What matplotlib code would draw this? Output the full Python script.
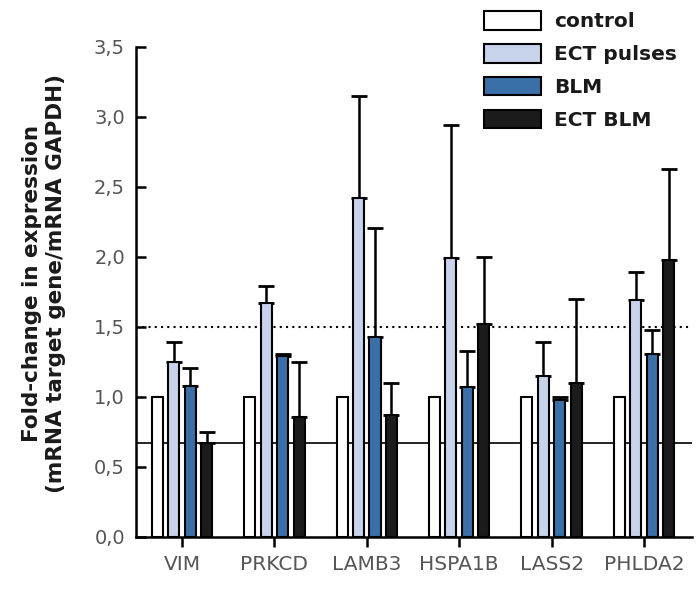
import matplotlib
matplotlib.use("Agg")
import matplotlib.pyplot as plt
import numpy as np
from matplotlib.patches import Patch

genes = ["VIM", "PRKCD", "LAMB3", "HSPA1B", "LASS2", "PHLDA2"]
series_names = ["control", "ECT pulses", "BLM", "ECT BLM"]
control = [1.0, 1.0, 1.0, 1.0, 1.0, 1.0]
ect_pulses = [1.25, 1.67, 2.42, 1.99, 1.15, 1.69]
blm = [1.08, 1.29, 1.43, 1.07, 0.98, 1.31]
ect_blm = [0.67, 0.86, 0.87, 1.52, 1.10, 1.98]
ect_pulses_err = [0.145, 0.12, 0.73, 0.95, 0.24, 0.20]
blm_err = [0.13, 0.02, 0.78, 0.26, 0.02, 0.17]
ect_blm_err = [0.08, 0.39, 0.23, 0.48, 0.60, 0.65]
control_err = [0, 0, 0, 0, 0, 0]
y_ticks = [0.0, 0.5, 1.0, 1.5, 2.0, 2.5, 3.0, 3.5]
y_tick_labels = ["0,0", "0,5", "1,0", "1,5", "2,0", "2,5", "3,0", "3,5"]
threshold_low = 0.67
threshold_high = 1.5

colors = ["#ffffff", "#c6d3ea", "#3a70a7", "#1b1b1b"]
values = [control, ect_pulses, blm, ect_blm]
errors = [control_err, ect_pulses_err, blm_err, ect_blm_err]

fig = plt.figure(figsize=(6.96, 5.93), dpi=100)
ax = fig.add_axes([136/696, 1-537/593, (692-136)/696, (537-47)/593])

x = np.arange(len(genes))
pitch = 0.178
width = 0.12
for i, (vals, errs, c) in enumerate(zip(values, errors, colors)):
    pos = x + (i - 1.5) * pitch
    ax.bar(pos, vals, width=width, color=c, edgecolor="black", linewidth=1.5, zorder=3)
    if i > 0:
        ax.errorbar(pos, vals, yerr=[np.zeros(len(errs)), errs], fmt="none",
                    ecolor="black", elinewidth=1.8, capsize=6, capthick=2.0, zorder=2)

ax.axhline(threshold_low, color="black", linewidth=1.2, zorder=1)
ax.axhline(threshold_high, color="black", linewidth=1.5, linestyle=(0, (1, 2)), zorder=1)

ax.set_xlim(-0.498, 5.52)
ax.set_ylim(0, 3.5)
ax.set_yticks(y_ticks)
ax.set_yticklabels(y_tick_labels)
ax.set_xticks(x)
ax.set_xticklabels(genes)
for s in ["top", "right"]:
    ax.spines[s].set_visible(False)
for s in ["left", "bottom"]:
    ax.spines[s].set_linewidth(1.8)
ax.tick_params(axis="y", direction="in", length=7, width=1.8, pad=8, labelsize=14, labelcolor="#555555")
ax.tick_params(axis="x", direction="out", length=7, width=1.8, pad=6, labelsize=14.5, labelcolor="#555555")

fig.text(44/696, 1-283/593, "Fold-change in expression\n(mRNA target gene/mRNA GAPDH)",
         rotation=90, ha="center", va="center", multialignment="center",
         fontsize=15.5, fontweight="bold", color="#1a1a1a")

handles = [Patch(facecolor=c, edgecolor="black", linewidth=1.5) for c in colors]
leg = fig.legend(handles, series_names, loc="upper left", bbox_to_anchor=(484/696, 1-11/593),
                 frameon=False, handlelength=2.83, handleheight=1.05, handletextpad=0.65,
                 labelspacing=0.63, borderpad=0, borderaxespad=0,
                 prop={"size": 14.5, "weight": "bold"})
for t in leg.get_texts():
    t.set_color("#1a1a1a")

fig.savefig("out.png", dpi=100)
